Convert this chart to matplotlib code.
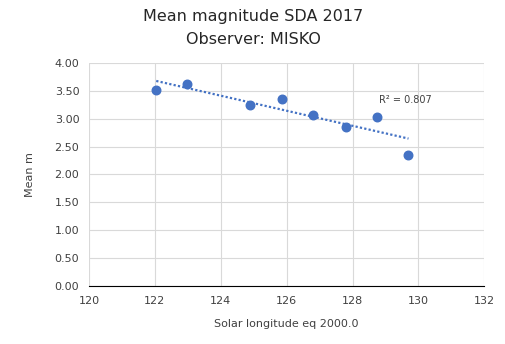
import numpy as np
import matplotlib.pyplot as plt

sol_long = [122.04, 122.98, 124.9, 125.87, 126.8, 127.8, 128.75, 129.7]
mean_mag = [3.52, 3.62, 3.24, 3.35, 3.07, 2.85, 3.026, 2.35]

blue = '#4472C4'

fig = plt.figure(figsize=(5.06, 3.44), dpi=100)
ax = fig.add_axes([0.176, 0.169, 0.781, 0.648])

ax.scatter(sol_long, mean_mag, s=38, color=blue, zorder=3)

# linear trendline
k, b = np.polyfit(sol_long, mean_mag, 1)
pred = np.polyval([k, b], sol_long)
ss_res = np.sum((np.array(mean_mag) - pred) ** 2)
ss_tot = np.sum((np.array(mean_mag) - np.mean(mean_mag)) ** 2)
r2 = 1 - ss_res / ss_tot
xs = np.array([min(sol_long), max(sol_long)])
ax.plot(xs, k * xs + b, color=blue, lw=1.6, ls=(0, (1, 1)), zorder=2)
ax.text(128.8, 3.28, 'R² = %.3f' % r2, fontsize=7, color='#404040')

ax.set_xlim(120, 132)
ax.set_ylim(0, 4)
ax.set_xticks(range(120, 133, 2))
ax.set_yticks(np.arange(0, 4.01, 0.5))
ax.set_yticklabels(['%.2f' % v for v in np.arange(0, 4.01, 0.5)])
ax.grid(True, color='#d9d9d9', lw=0.8)
ax.set_axisbelow(True)
for s in ['top', 'right', 'left']:
    ax.spines[s].set_visible(False)
ax.spines['bottom'].set_color('black')
ax.tick_params(length=0, labelsize=8, colors='#404040', pad=7)

ax.set_xlabel('Solar longitude eq 2000.0', fontsize=8, color='#404040', labelpad=10)
ax.set_ylabel('Mean m', fontsize=8, color='#404040', labelpad=14)
fig.text(0.5, 0.951, 'Mean magnitude SDA 2017', fontsize=11.5, color='#262626', ha='center', va='center')
fig.text(0.5, 0.884, 'Observer: MISKO', fontsize=11.5, color='#262626', ha='center', va='center')

fig.savefig('out.png', dpi=100)
